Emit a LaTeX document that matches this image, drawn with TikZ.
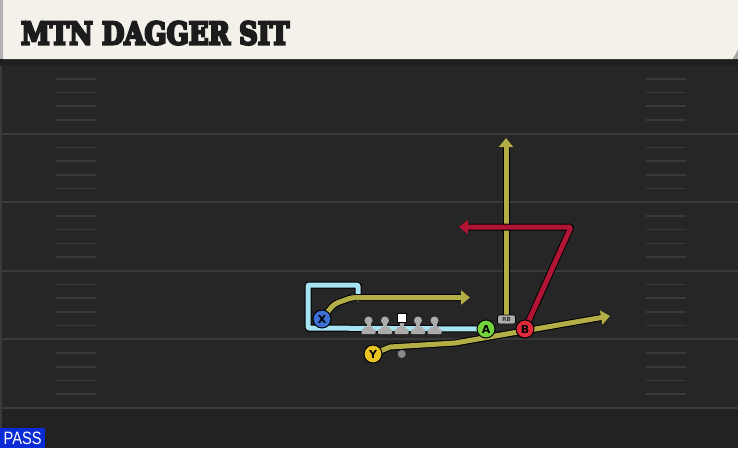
\documentclass[tikz,border=0pt]{standalone}
\usepackage{fontspec}
\setsansfont{DejaVu Sans}
\newfontfamily\titlefont{DejaVu Serif}
\newfontfamily\passfont{Liberation Sans}
\usetikzlibrary{arrows.meta}
\definecolor{field}{HTML}{262626}
\definecolor{fieldlow}{HTML}{222222}
\definecolor{yardc}{HTML}{3A3A3A}
\definecolor{hashc}{HTML}{393939}
\definecolor{cream}{HTML}{F3F1EA}
\definecolor{titletext}{HTML}{1C1C1C}
\definecolor{routeolive}{HTML}{B3AE45}
\definecolor{crimson}{HTML}{B01535}
\definecolor{motion}{HTML}{A6E3F3}
\definecolor{xblue}{HTML}{3D6FD6}
\definecolor{yyellow}{HTML}{E9C224}
\definecolor{agreen}{HTML}{72D33C}
\definecolor{bred}{HTML}{E02A3C}
\definecolor{olgray}{HTML}{ABABAB}
\definecolor{passblue}{HTML}{0B2BD6}
\tikzset{
  player/.style={circle, draw=black, line width=1pt, minimum size=18pt, inner sep=0pt,
    font=\sffamily\bfseries\fontsize{11}{11}\selectfont, text=black},
  route/.style={line width=5pt, line join=round,
    preaction={draw=black, line width=7pt}},
  routetip/.style={-{Triangle[width=14pt,length=9pt]}},
  yardline/.style={draw=yardc, line width=2pt},
  hashline/.style={draw=hashc, line width=1.6pt},
  lineman/.pic={
    \fill[olgray] (0,0) circle (4);
    \fill[olgray] (-2,0) rectangle (2,8);
    \fill[olgray] (-4.5,6) rectangle (4.5,9);
    \fill[olgray, rounded corners=1pt] (-7,8.5) rectangle (7,13.5);
  },
}
\begin{document}
\begin{tikzpicture}[x=1pt,y=-1pt]
\useasboundingbox (0,0) rectangle (738,448);
% background
\fill[field] (0,0) rectangle (738,448);
\fill[fieldlow] (0,408) rectangle (738,448);
\draw[draw=yardc, line width=1.5pt] (1,60) -- (1,448);
% yard lines and hashes
\foreach \i in {0,...,5} {
  \pgfmathsetmacro\yy{65+68.6*\i}
  \draw[yardline] (0,\yy) -- (738,\yy);
}
\foreach \i in {0,...,4} {
  \foreach \k in {1,...,4} {
    \pgfmathsetmacro\yy{65+68.6*\i+13.7*\k}
    \draw[hashline] (56,\yy) -- (96,\yy);
    \draw[hashline] (646,\yy) -- (686,\yy);
  }
}
% title bar
\fill[black!88] (0,58) rectangle (738,66);
\fill[cream] (3,0) -- (738,0) -- (738,50) -- (733,59) -- (3,59) -- cycle;
\fill[gray!60] (0,0) rectangle (3,59);
\fill[gray!70] (738,50) -- (733,59) -- (738,59) -- cycle;
\node[anchor=south west, inner sep=0pt, text=titletext] (title) at (21,45)
  {\resizebox{268pt}{23pt}{\special{pdf:literal 2 Tr 0.8 w 0.11 0.11 0.11 RG}\titlefont\bfseries MTN DAGGER SIT\special{pdf:literal 0 Tr}}};
% PASS tag
\fill[passblue] (0,428) rectangle (45,448);
\node[anchor=south west, inner sep=0pt, text=white] (pass) at (3.5,445)
  {\resizebox{38pt}{12.5pt}{\passfont PASS}};
% coordinates
\coordinate (m1) at (308,328);
\coordinate (m2) at (308,285);
\coordinate (m3) at (358,285);
\coordinate (m4) at (358,302);
\coordinate (xr1) at (334,304);
\coordinate (xr2) at (352,297.5);
\coordinate (xr3) at (470,297.5);
\coordinate (yr1) at (390,347);
\coordinate (yr2) at (455,343);
\coordinate (yr3) at (610,316);
\coordinate (rbend) at (506,138);
\coordinate (br1) at (571,227);
\coordinate (br2) at (459,227);
\path (486,329) coordinate (Apos) (525,329) coordinate (Bpos)
      (322,319) coordinate (Xpos) (373,354) coordinate (Ypos);
% motion path (light blue)
\draw[route, motion, -{Triangle[width=12pt,length=8pt]}, rounded corners=1pt]
  ([xshift=-8pt]Apos) -- (m1) -- (m2) -- (m3) -- (m4);
% routes
\draw[route, routeolive, routetip, rounded corners=4pt] (Xpos) -- (xr1) -- (xr2) -- (xr3);
\draw[route, routeolive, routetip] (Ypos) -- (yr1) -- (yr2) -- (yr3);
\draw[route, routeolive, routetip] (506,316) -- (rbend);
\draw[route, crimson, routetip, rounded corners=2pt] (Bpos) -- (br1) -- (br2);
% offensive line
\pic at (368.5,320.5) {lineman};
\pic at (385,320.5) {lineman};
\pic at (418,320.5) {lineman};
\pic at (434.5,320.5) {lineman};
\begin{scope}[shift={(401.7,320.5)}]
  \fill[olgray] (-2,0) rectangle (2,8);
  \fill[olgray] (-4.5,6) rectangle (4.5,9);
  \fill[olgray, rounded corners=1pt] (-7,8.5) rectangle (7,13.5);
\end{scope}
\node[draw=black, line width=0.6pt, fill=white, minimum size=9pt, inner sep=0pt] (C) at (401.7,317.5) {};
\node[circle, fill=olgray!80!black, minimum size=8pt, inner sep=0pt] (QB) at (401.7,354) {};
% players
\node[player, fill=xblue] (X) at (Xpos) {X};
\node[player, fill=yyellow] (Y) at (Ypos) {Y};
\node[player, fill=agreen] (A) at (Apos) {A};
\node[player, fill=bred] (B) at (Bpos) {B};
\node[draw=black, line width=0.6pt, fill=olgray, rounded corners=2pt, minimum width=18pt,
  minimum height=9pt, inner sep=0pt, font=\sffamily\bfseries\fontsize{5.5}{5.5}\selectfont, text=black!80] (RB) at (506.5,319.5) {RB};
\end{tikzpicture}
\end{document}
